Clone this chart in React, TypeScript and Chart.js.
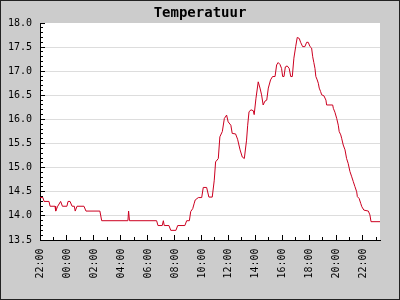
import { useEffect, useRef } from "react";
import { Chart, registerables } from "chart.js";

Chart.register(...registerables);

// Sample times (clock, starting 22:00 and running past midnight into the next evening)
const times = [
  "22:00", "22:13", "22:18", "22:40", "22:45", "23:07", "23:10", "23:19", "23:32", "23:40",
  "00:00", "00:05", "00:14", "00:23", "00:33", "00:37", "00:45", "01:16", "01:25", "02:27",
  "02:35", "04:32", "04:35", "04:39", "06:40", "06:46", "07:05", "07:10", "07:14", "07:35",
  "07:43", "08:06", "08:14", "08:46", "08:54", "09:06", "09:12", "09:21", "09:27", "09:32",
  "09:46", "10:01", "10:08", "10:23", "10:33", "10:48", "10:57", "11:03", "11:15", "11:22",
  "11:33", "11:42", "11:52", "11:59", "12:11", "12:17", "12:32", "12:41", "12:52", "13:02",
  "13:11", "13:21", "13:26", "13:32", "13:41", "13:51", "13:55", "14:03", "14:13", "14:21",
  "14:28", "14:35", "14:43", "14:51", "14:58", "15:08", "15:17", "15:28", "15:35", "15:42",
  "15:50", "15:57", "16:02", "16:08", "16:14", "16:22", "16:31", "16:38", "16:45", "16:52",
  "17:00", "17:07", "17:16", "17:22", "17:31", "17:41", "17:49", "17:56", "18:04", "18:11",
  "18:16", "18:21", "18:26", "18:30", "18:36", "18:41", "18:45", "18:51", "18:56", "19:06",
  "19:15", "19:18", "19:45", "19:48", "19:55", "20:03", "20:10", "20:14", "20:21", "20:25",
  "20:32", "20:40", "20:47", "20:54", "21:02", "21:10", "21:17", "21:24", "21:32", "21:35",
  "21:43", "21:50", "21:55", "22:04", "22:24", "22:31", "22:36", "23:16",
];

// Temperatures (°C), one per sample time
const temps = [
  14.38, 14.38, 14.3, 14.3, 14.2, 14.2, 14.1, 14.2, 14.3, 14.2,
  14.2, 14.3, 14.3, 14.2, 14.2, 14.1, 14.2, 14.2, 14.1, 14.1,
  13.9, 13.9, 14.1, 13.9, 13.9, 13.8, 13.8, 13.9, 13.8, 13.8,
  13.7, 13.7, 13.8, 13.8, 13.9, 13.9, 14.09, 14.15, 14.25, 14.33,
  14.38, 14.38, 14.59, 14.59, 14.39, 14.39, 14.74, 15.12, 15.19, 15.64,
  15.75, 16.02, 16.09, 15.95, 15.88, 15.71, 15.7, 15.59, 15.37, 15.22,
  15.19, 15.57, 15.88, 16.16, 16.2, 16.18, 16.1, 16.44, 16.78, 16.65,
  16.51, 16.3, 16.38, 16.4, 16.65, 16.82, 16.89, 16.89, 17.13, 17.18,
  17.14, 17.06, 16.89, 16.89, 17.09, 17.11, 17.06, 16.89, 16.89, 17.27,
  17.51, 17.7, 17.68, 17.6, 17.51, 17.51, 17.6, 17.6, 17.51, 17.48,
  17.3, 17.18, 17.06, 16.89, 16.82, 16.75, 16.65, 16.58, 16.51, 16.49,
  16.4, 16.3, 16.3, 16.23, 16.15, 16.02, 15.88, 15.75, 15.68, 15.61,
  15.47, 15.37, 15.19, 15.09, 14.92, 14.81, 14.71, 14.61, 14.5, 14.4,
  14.36, 14.26, 14.19, 14.12, 14.1, 14.02, 13.88, 13.88,
];

const title = "Temperatuur";
const startHour = 22; // axis starts at 22:00
const yMin = 13.5;
const yMax = 18.0;
const yStep = 0.5;
const yMinorStep = 0.1;
const xLabelEvery = 120; // minutes between labelled ticks
const xMinorEvery = 60; // minutes between tick marks

function clockToOffsets(list: string[]): number[] {
  const out: number[] = [];
  let prev = -1;
  for (const s of list) {
    const [h, m] = s.split(":").map(Number);
    let rel = h * 60 + m - startHour * 60;
    if (rel < 0) rel += 1440;
    while (rel < prev) rel += 1440;
    out.push(rel);
    prev = rel;
  }
  return out;
}

function offsetToLabel(minutes: number): string {
  const h = (startHour + Math.round(minutes / 60)) % 24;
  return String(h).padStart(2, "0") + ":00";
}

const FONT = "'DejaVu Sans Mono', monospace";

export default function App() {
  const ref = useRef<HTMLCanvasElement>(null);

  useEffect(() => {
    document.body.style.margin = "0";
    const canvas = ref.current;
    if (!canvas) return;
    const offsets = clockToOffsets(times);
    const xMax = offsets[offsets.length - 1];
    const n = Math.min(offsets.length, temps.length);
    const points = [];
    for (let i = 0; i < n; i++) points.push({ x: offsets[i], y: temps[i] });

    const decor = {
      id: "decor",
      beforeDraw(chart: any) {
        const { ctx, chartArea } = chart;
        ctx.save();
        ctx.fillStyle = "#cccccc";
        ctx.fillRect(0, 0, chart.width, chart.height);
        ctx.fillStyle = "#ffffff";
        ctx.fillRect(
          chartArea.left,
          chartArea.top,
          chartArea.right - chartArea.left,
          chartArea.bottom - chartArea.top
        );
        ctx.restore();
      },
      afterDraw(chart: any) {
        const { ctx, chartArea, scales } = chart;
        const { left, bottom } = chartArea;
        ctx.save();
        ctx.strokeStyle = "#000000";
        ctx.lineWidth = 1;
        ctx.beginPath();
        const ySteps = Math.round((yMax - yMin) / yMinorStep);
        const perMajor = Math.round(yStep / yMinorStep);
        for (let i = 0; i <= ySteps; i++) {
          const v = yMin + i * yMinorStep;
          const py = Math.round(scales.y.getPixelForValue(v) - 0.5) + 0.5;
          const len = i % perMajor === 0 ? 5 : 3;
          ctx.moveTo(left, py);
          ctx.lineTo(left + len, py);
        }
        for (let m = 0; m <= xMax; m += xMinorEvery) {
          const px = Math.round(scales.x.getPixelForValue(m) - 0.5) + 0.5;
          const len = m % xLabelEvery === 0 ? 5 : 3;
          ctx.moveTo(px, bottom);
          ctx.lineTo(px, bottom - len);
        }
        ctx.stroke();

        // vertical hour labels (reading bottom to top)
        ctx.fillStyle = "#000000";
        ctx.font = "10px " + FONT;
        ctx.textAlign = "right";
        ctx.textBaseline = "middle";
        for (let m = 0; m <= xMax; m += xLabelEvery) {
          const px = scales.x.getPixelForValue(m);
          ctx.save();
          ctx.translate(px + 0.5, bottom + 8.5);
          ctx.rotate(-Math.PI / 2);
          ctx.fillText(offsetToLabel(m), 0, 0);
          ctx.restore();
        }

        ctx.strokeStyle = "#222222";
        ctx.strokeRect(0.5, 0.5, chart.width - 1, chart.height - 1);
        ctx.restore();
      },
    };

    const chart = new Chart(canvas, {
      type: "line",
      data: {
        datasets: [
          {
            data: points,
            borderColor: "#cc0020",
            borderWidth: 1,
            pointRadius: 0,
            tension: 0,
            fill: false,
          },
        ],
      },
      options: {
        responsive: false,
        animation: false,
        events: [],
        layout: { padding: 0 },
        plugins: {
          legend: { display: false },
          tooltip: { enabled: false },
          title: {
            display: true,
            text: title,
            color: "#000000",
            font: { family: FONT, size: 14, weight: "bold" },
            padding: { top: 5, bottom: 1.2 },
          },
        },
        scales: {
          x: {
            type: "linear",
            min: 0,
            max: xMax,
            afterFit(scale: any) {
              scale.height = 60;
            },
            grid: { display: false, drawTicks: false },
            border: { display: true, color: "#000000", width: 1 },
            ticks: { display: false, stepSize: xLabelEvery },
          },
          y: {
            type: "linear",
            min: yMin,
            max: yMax,
            afterFit(scale: any) {
              scale.width = 40;
            },
            grid: {
              drawTicks: false,
              color: (c: any) =>
                c.tick && Math.abs(c.tick.value - yMax) < 1e-6 ? "rgba(0,0,0,0)" : "#dddddd",
              lineWidth: 1,
            },
            border: { display: true, color: "#000000", width: 1 },
            ticks: {
              stepSize: yStep,
              padding: 8,
              color: "#000000",
              font: { family: FONT, size: 10 },
              callback(value: any) {
                return Number(value).toFixed(1);
              },
            },
          },
          // empty right-hand margin so the title stays centred on the whole image
          margin: {
            type: "linear",
            position: "right",
            min: yMin,
            max: yMax,
            afterFit(scale: any) {
              scale.width = 20;
            },
            grid: { display: false, drawTicks: false },
            border: { display: false },
            ticks: { display: false },
          },
        },
      },
      plugins: [decor],
    } as any);

    return () => chart.destroy();
  }, []);

  return (
    <canvas
      ref={ref}
      width={400}
      height={300}
      style={{ display: "block", width: "400px", height: "300px" }}
    />
  );
}
